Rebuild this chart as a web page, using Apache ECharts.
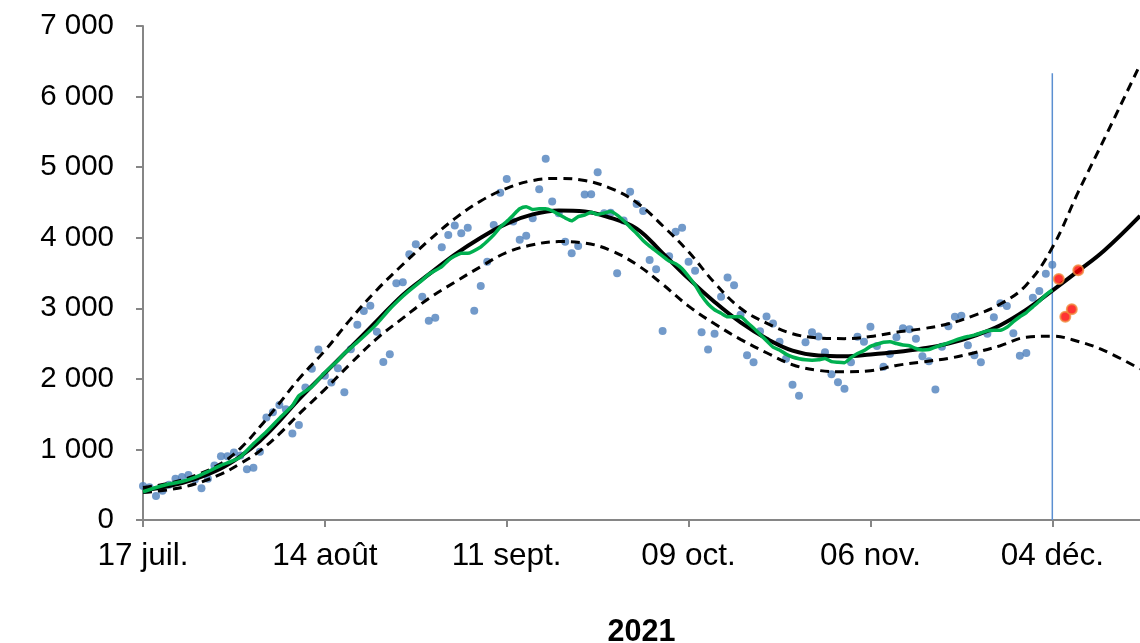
<!DOCTYPE html>
<html>
<head>
<meta charset="utf-8">
<script src="https://cdn.jsdelivr.net/npm/echarts@6/dist/echarts.min.js"></script>
<style>
  html, body { margin: 0; padding: 0; background: #fff; }
  #chart { width: 1140px; height: 643px; }
</style>
</head>
<body>
<div id="chart"></div>
<script>
// Days counted from 17 July 2021
const tickDays = [0, 28, 56, 84, 112, 140];
const tickLabels = ['17 juil.', '14 août', '11 sept.', '09 oct.', '06 nov.', '04 déc.'];
const yearLabel = '2021';

// Daily counts, one value per day starting on day 0
const dailyCases = [
  482, 463, 340, 415, 500, 585, 609, 638, 574, 449,
  585, 772, 904, 905, 956, 914, 718, 741, 968, 1452,
  1528, 1630, 1570, 1226, 1346, 1877, 2144, 2416, 2043, 1948,
  2150, 1810, 2419, 2767, 2962, 3037, 2668, 2239, 2348, 3354,
  3368, 3765, 3907, 3164, 2824, 2867, 3864, 4038, 4173, 4063,
  4142, 2966, 3316, 3660, 4180, 4638, 4832, 4230, 3970, 4029,
  4275, 4686, 5120, 4513, 4346, 3944, 3779, 3883, 4612, 4615,
  4927, 4346, 4354, 3496, 4244, 4652, 4478, 4379, 3684, 3552,
  2678, 3737, 4085, 4142, 3660, 3533, 2661, 2416, 2640, 3164,
  3436, 3326, 2908, 2334, 2235, 2674, 2884, 2784, 2527, 2284,
  1916, 1760, 2519, 2660, 2600, 2376, 2066, 1951, 1861, 2236,
  2596, 2525, 2739, 2466, 2172, 2352, 2589, 2716, 2702, 2569,
  2320, 2249, 1848, 2454, 2745, 2881, 2895, 2475, 2334, 2235,
  2640, 2872, 3071, 3032, 2645, 2328, 2366, 3150, 3245, 3490,
  3618
];

// Most recent days, shown separately
const recentDays = [141, 142, 143, 144];
const recentCases = [3415, 2881, 2986, 3538];

// Fitted trend [day, value]
const trend = [
  [0, 420], [4, 480], [8, 580], [12, 730], [15, 900], [18, 1120], [21, 1400],
  [24, 1710], [28, 2080], [32, 2450], [36, 2820], [40, 3190], [44, 3480],
  [48, 3760], [52, 4000], [56, 4200], [60, 4330], [64, 4385], [68, 4370],
  [72, 4280], [76, 4130], [80, 3780], [84, 3420], [88, 3090], [92, 2800],
  [96, 2570], [100, 2400], [104, 2330], [108, 2320], [112, 2345], [116, 2380],
  [120, 2430], [124, 2500], [128, 2610], [132, 2760], [136, 2980], [140, 3250],
  [144, 3530], [148, 3820], [153.5, 4310]
];

// Upper band of the trend
const trendUpper = [
  [0, 460], [4, 520], [8, 630], [12, 800], [15, 1016], [18, 1320], [21, 1654],
  [24, 2000], [28, 2400], [32, 2850], [36, 3260], [40, 3620], [44, 3960],
  [48, 4270], [52, 4520], [56, 4700], [60, 4810], [64, 4840], [68, 4810],
  [72, 4700], [76, 4500], [80, 4170], [84, 3800], [88, 3360], [92, 3000],
  [96, 2790], [100, 2640], [104, 2580], [108, 2570], [112, 2600], [116, 2660],
  [120, 2710], [124, 2780], [128, 2900], [132, 3060], [136, 3330], [140, 3860],
  [144, 4650], [148, 5400], [153.5, 6450]
];

// Lower band of the trend
const trendLower = [
  [0, 390], [4, 430], [8, 510], [12, 650], [15, 800], [18, 980], [21, 1220],
  [24, 1500], [28, 1850], [32, 2220], [36, 2570], [40, 2860], [44, 3140],
  [48, 3370], [52, 3590], [56, 3790], [60, 3900], [64, 3945], [68, 3925],
  [72, 3820], [76, 3620], [80, 3340], [84, 3030], [88, 2780], [92, 2560],
  [96, 2370], [100, 2200], [104, 2120], [108, 2100], [112, 2115], [116, 2190],
  [120, 2240], [124, 2290], [128, 2370], [132, 2470], [136, 2590], [140, 2605],
  [144, 2530], [148, 2400], [153.5, 2140]
];

// 7-day moving average [day, value]
const movingAvg = [
  [0, 400], [2, 460], [4, 510], [6, 545], [8, 605], [10, 685], [12, 775], [14, 845],
  [15, 895], [17, 1080], [19, 1250], [21, 1440], [23, 1620], [24, 1760], [26, 1890],
  [28, 2090], [30, 2260], [31, 2360], [33, 2520], [35, 2690], [36, 2780], [38, 2990],
  [40, 3170], [41, 3250], [43, 3400], [44, 3480], [46, 3590], [47, 3680], [48, 3740],
  [49, 3780], [50, 3780], [52, 3870], [53, 3950], [54, 4040], [55, 4150], [56, 4230],
  [57, 4320], [58, 4410], [59, 4440], [60, 4400], [61, 4410], [62, 4410], [63, 4380],
  [64, 4330], [65, 4280], [66, 4240], [67, 4300], [68, 4320], [69, 4360], [70, 4330],
  [71, 4350], [72, 4370], [73, 4320], [74, 4240], [75, 4150], [76, 4060], [77, 3960],
  [78, 3880], [79, 3810], [80, 3740], [81, 3670], [82, 3630], [83, 3560], [84, 3450],
  [85, 3330], [86, 3180], [87, 3060], [88, 2980], [89, 2930], [90, 2880], [92, 2880],
  [93, 2800], [94, 2720], [95, 2630], [96, 2540], [97, 2450], [98, 2410], [99, 2350],
  [100, 2310], [101, 2285], [102, 2270], [103, 2265], [104, 2270], [105, 2290],
  [106, 2245], [107, 2235], [108, 2230], [109, 2300], [110, 2360], [111, 2400],
  [112, 2460], [113, 2490], [114, 2520], [115, 2525], [116, 2500], [117, 2480],
  [118, 2470], [119, 2430], [120, 2410], [121, 2415], [122, 2450], [123, 2480],
  [124, 2510], [125, 2545], [126, 2575], [127, 2600], [128, 2620], [129, 2650],
  [130, 2680], [131, 2690], [132, 2690], [133, 2730], [134, 2810], [135, 2880],
  [136, 2940], [137, 3020], [138, 3100], [139, 3190], [140, 3260]
];

// Vertical marker on the last complete day
const cutoffLine = [[140, 0], [140, 6330]];

const axisGray = '#868686';
const font = 'Liberation Sans, Arial, sans-serif';

const chart = echarts.init(document.getElementById('chart'), null, { renderer: 'canvas' });

chart.setOption({
  animation: false,
  backgroundColor: '#ffffff',
  grid: { left: 143, right: 0, top: 26, bottom: 123, containLabel: false, outerBoundsMode: 'none' },
  xAxis: {
    type: 'value',
    min: 0,
    max: 153.5,
    interval: 28,
    name: yearLabel,
    nameLocation: 'middle',
    nameGap: 97,
    nameTextStyle: { fontFamily: font, fontSize: 30.5, fontWeight: 'bold', color: '#000', verticalAlign: 'top' },
    splitLine: { show: false },
    axisLine: { show: true, lineStyle: { color: axisGray, width: 2 } },
    axisTick: { show: true, length: 7, lineStyle: { color: axisGray, width: 2 }, customValues: tickDays },
    axisLabel: {
      customValues: tickDays,
      margin: 20,
      fontFamily: font,
      fontSize: 31.5,
      color: '#000',
      formatter: function (v) {
        const i = tickDays.indexOf(Math.round(v));
        return i >= 0 ? tickLabels[i] : '';
      }
    }
  },
  yAxis: {
    type: 'value',
    min: 0,
    max: 7000,
    interval: 1000,
    splitLine: { show: false },
    axisLine: { show: true, lineStyle: { color: axisGray, width: 2 } },
    axisTick: { show: true, length: 7, lineStyle: { color: axisGray, width: 2 } },
    axisLabel: {
      margin: 29,
      fontFamily: font,
      fontSize: 29.5,
      color: '#000',
      formatter: function (v) {
        return String(v).replace(/\B(?=(\d{3})+(?!\d))/g, ' ');
      }
    }
  },
  series: [
    {
      name: 'cutoff',
      type: 'line',
      data: cutoffLine,
      showSymbol: false,
      lineStyle: { color: '#5b8fd1', width: 1.5 },
      z: 1
    },
    {
      name: 'daily',
      type: 'scatter',
      data: dailyCases.map((v, i) => [i, v]),
      symbolSize: 8,
      itemStyle: { color: '#4f81bd' },
      z: 2
    },
    {
      name: 'upper',
      type: 'line',
      data: trendUpper,
      smooth: 0.4,
      showSymbol: false,
      lineStyle: { color: '#000', width: 3, type: [9, 6] },
      z: 3
    },
    {
      name: 'lower',
      type: 'line',
      data: trendLower,
      smooth: 0.4,
      showSymbol: false,
      lineStyle: { color: '#000', width: 3, type: [9, 6] },
      z: 3
    },
    {
      name: 'trend',
      type: 'line',
      data: trend,
      smooth: 0.4,
      showSymbol: false,
      lineStyle: { color: '#000', width: 4 },
      z: 4
    },
    {
      name: 'average',
      type: 'line',
      data: movingAvg,
      smooth: 0.2,
      showSymbol: false,
      lineStyle: { color: '#00b050', width: 3.5 },
      z: 5
    },
    {
      name: 'recent',
      type: 'scatter',
      data: recentDays.map((d, i) => [d, recentCases[i]]),
      symbolSize: 10,
      itemStyle: { color: '#ff0000', borderColor: '#f08a3c', borderWidth: 2 },
      z: 6
    }
  ]
});
</script>
</body>
</html>
